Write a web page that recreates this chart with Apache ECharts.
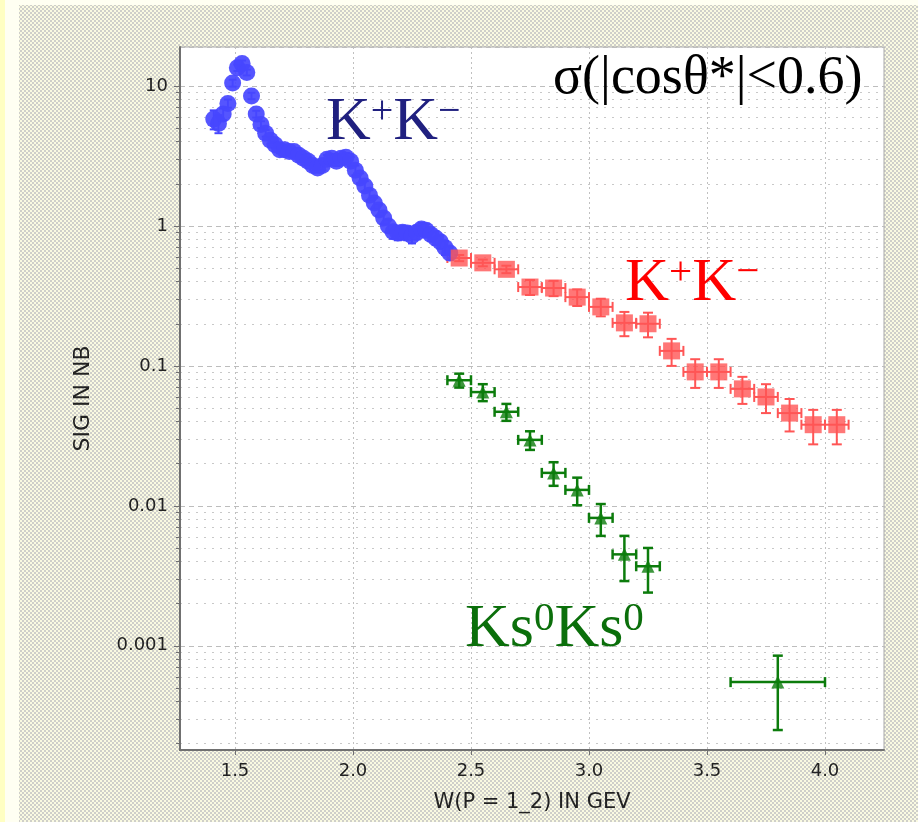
<!DOCTYPE html>
<html><head><meta charset="utf-8">
<script src="https://cdn.jsdelivr.net/npm/echarts@6/dist/echarts.min.js"></script>
<style>
html,body{margin:0;padding:0;}
#bg{position:absolute;left:0;top:0;width:918px;height:822px;background:#fffff2;}
#pat{position:absolute;left:19px;top:5px;width:899px;height:817px;background-color:#fafae2;
 background-image:radial-gradient(circle,#cfcfca 0.8px,transparent 1.3px),radial-gradient(circle,#cfcfca 0.8px,transparent 1.3px);
 background-size:4px 4px;background-position:0 0,2px 2px;}
#strip{position:absolute;left:0;top:0;width:5px;height:822px;background:#ffffc2;}
#chart{position:absolute;left:0;top:0;width:918px;height:822px;}
</style></head>
<body>
<div id="bg"></div><div id="pat"></div><div id="strip"></div>
<div id="chart"></div>
<script>
// ---- data ----
const blueW = [1.41,1.43,1.45,1.47,1.49,1.51,1.53,1.55,1.57,1.59,1.61,1.63,1.65,1.67,1.69,1.71,1.73,1.75,1.77,1.79,1.81,1.83,1.85,1.87,1.89,1.91,1.93,1.95,1.97,1.99,2.01,2.03,2.05,2.07,2.09,2.11,2.13,2.15,2.17,2.19,2.21,2.23,2.25,2.27,2.29,2.31,2.33,2.35,2.37,2.39,2.41];
const blueSig = [5.8,5.4,6.3,7.5,10.5,13.5,14.5,12.5,8.5,6.3,5.3,4.6,4.1,3.8,3.5,3.5,3.4,3.4,3.2,3.05,2.9,2.7,2.6,2.7,3.0,3.05,2.9,3.05,3.1,2.9,2.5,2.2,1.93,1.66,1.46,1.3,1.14,1.0,0.91,0.89,0.9,0.89,0.85,0.9,0.95,0.93,0.87,0.82,0.77,0.70,0.64];
const blueErr = [0.9,0.8,0.6,0.5,0.6,0.7,0.7,0.6,0.45,0.35,0.3,0.25,0.22,0.2,0.2,0.2,0.2,0.2,0.2,0.2,0.2,0.2,0.2,0.2,0.22,0.22,0.22,0.22,0.22,0.22,0.2,0.18,0.16,0.14,0.13,0.12,0.11,0.1,0.1,0.1,0.1,0.1,0.1,0.1,0.1,0.1,0.09,0.09,0.08,0.08,0.07];

const redW = [2.45,2.55,2.65,2.75,2.85,2.95,3.05,3.15,3.25,3.35,3.45,3.55,3.65,3.75,3.85,3.95,4.05];
const redSig = [0.59,0.545,0.49,0.366,0.36,0.31,0.264,0.203,0.20,0.128,0.0906,0.0906,0.0685,0.060,0.046,0.038,0.038];
const redErr = [0.03,0.03,0.03,0.045,0.045,0.042,0.038,0.04,0.04,0.028,0.021,0.021,0.015,0.014,0.012,0.0105,0.0105];
const redXErr = [0.05,0.05,0.05,0.05,0.05,0.05,0.05,0.05,0.05,0.05,0.05,0.05,0.05,0.05,0.05,0.05,0.05];

const greenW = [2.45,2.55,2.65,2.75,2.85,2.95,3.05,3.15,3.25,3.8];
const greenSig = [0.079,0.065,0.047,0.0296,0.0172,0.013,0.0082,0.0045,0.0037,0.00055];
const greenErr = [0.009,0.009,0.0065,0.0045,0.0033,0.0029,0.0021,0.0016,0.0013,0.0003];
const greenXErr = [0.05,0.05,0.05,0.05,0.05,0.05,0.05,0.05,0.05,0.2];

const xTickValues = [1.5,2.0,2.5,3.0,3.5,4.0];
const yTickValues = [0.001,0.01,0.1,1,10];
const X_MIN = 1.267, X_MAX = 4.25, Y_MIN = 1.8e-4, Y_MAX = 19;

// minor log tick positions (2..9 x decade), in log10 space for the helper axis
const yMinorLog = [];
for (let d = -4; d <= 1; d++) for (let k = 2; k <= 9; k++) {
  const v = k * Math.pow(10, d);
  if (v > Y_MIN && v < Y_MAX) yMinorLog.push(Math.log10(v));
}

function rows(xs, ys, ex, ey) { return xs.map((x, i) => [x, ys[i], ex ? ex[i] : 0, ey[i]]); }

function errBars(color, lw, cap) {
  return function (params, api) {
    const x = api.value(0), y = api.value(1), ex = api.value(2), ey = api.value(3);
    const c = api.coord([x, y]);
    const t = api.coord([x, y + ey]);
    const b = api.coord([x, Math.max(y - ey, 1e-6)]);
    const st = { stroke: color, lineWidth: lw };
    const ch = [
      { type: 'line', shape: { x1: c[0], y1: t[1], x2: c[0], y2: b[1] }, style: st },
      { type: 'line', shape: { x1: c[0] - cap, y1: t[1], x2: c[0] + cap, y2: t[1] }, style: st },
      { type: 'line', shape: { x1: c[0] - cap, y1: b[1], x2: c[0] + cap, y2: b[1] }, style: st }
    ];
    if (ex > 0) {
      const l = api.coord([x - ex, y]), r = api.coord([x + ex, y]);
      ch.push({ type: 'line', shape: { x1: l[0], y1: c[1], x2: r[0], y2: c[1] }, style: st });
      ch.push({ type: 'line', shape: { x1: l[0], y1: c[1] - cap, x2: l[0], y2: c[1] + cap }, style: st });
      ch.push({ type: 'line', shape: { x1: r[0], y1: c[1] - cap, x2: r[0], y2: c[1] + cap }, style: st });
    }
    return { type: 'group', children: ch };
  };
}

const BLUE = '#4646ff', RED = '#ff5555', GREEN = '#0c7c0c';
const tickFont = 'DejaVu Sans';

const chart = echarts.init(document.getElementById('chart'), null, { renderer: 'canvas' });
chart.setOption({
  backgroundColor: 'transparent',
  animation: false,
  grid: { left: 180, top: 47, right: 34, bottom: 72, show: true, backgroundColor: '#ffffff', borderColor: '#a8a8a8', borderWidth: 1 },
  xAxis: {
    type: 'value', min: X_MIN, max: X_MAX,
    name: 'W(P = 1_2) IN GEV', nameLocation: 'middle', nameGap: 42,
    nameTextStyle: { fontFamily: tickFont, fontSize: 21, color: '#222' },
    axisLine: { onZero: false, lineStyle: { color: '#707070', width: 2 } },
    axisTick: { customValues: xTickValues, length: 5, lineStyle: { color: '#707070' } },
    axisLabel: { customValues: xTickValues, margin: 12, fontFamily: tickFont, fontSize: 18, color: '#222', formatter: v => v.toFixed(1) },
    splitLine: { show: true, lineStyle: { color: '#c0c0c0', type: [2, 3], width: 1 } }
  },
  yAxis: [{
    type: 'log', logBase: 10, min: Y_MIN, max: Y_MAX, position: 'left',
    name: 'SIG IN NB', nameLocation: 'middle', nameGap: 86, nameRotate: 90,
    nameTextStyle: { fontFamily: tickFont, fontSize: 22, color: '#222' },
    axisLine: { show: true, onZero: false, lineStyle: { color: '#707070', width: 2 } },
    axisTick: { show: true, length: 6, lineStyle: { color: '#707070' } },
    axisLabel: { showMinLabel: false, showMaxLabel: false, margin: 12, fontFamily: tickFont, fontSize: 18, color: '#222',
      formatter: v => { const m = yTickValues.find(t => Math.abs(t - v) / t < 1e-6); return m === undefined ? '' : String(m); } },
    splitLine: { show: true, lineStyle: { color: '#bdbdbd', type: [5, 4], width: 1 } }
  }, {
    type: 'value', min: Math.log10(Y_MIN), max: Math.log10(Y_MAX), position: 'left',
    axisLine: { show: false, onZero: false },
    axisTick: { show: true, customValues: yMinorLog, length: 4, lineStyle: { color: '#707070' } },
    axisLabel: { show: false, customValues: yMinorLog },
    splitLine: { show: true, lineStyle: { color: '#c8c8c8', type: [2, 6], width: 1 } }
  }],
  graphic: [
    { type: 'text', left: 553, top: 52, silent: true, z: 100,
      style: { text: 'σ(|cosθ*|<0.6)', fontFamily: 'Liberation Serif', fontSize: 54, fill: '#000' } },
    { type: 'text', left: 326, top: 92, silent: true, z: 100,
      style: { text: '{k|K}{s|+}{k|K}{s|−}', rich: {
        k: { fontFamily: 'Liberation Serif', fontSize: 62, fill: '#20207f' },
        s: { fontFamily: 'Liberation Serif', fontSize: 40, fill: '#20207f', verticalAlign: 'top' } } } },
    { type: 'text', left: 625, top: 253, silent: true, z: 100,
      style: { text: '{k|K}{s|+}{k|K}{s|−}', rich: {
        k: { fontFamily: 'Liberation Serif', fontSize: 61, fill: '#ff0000' },
        s: { fontFamily: 'Liberation Serif', fontSize: 41, fill: '#ff0000', verticalAlign: 'top' } } } },
    { type: 'text', left: 465, top: 599, silent: true, z: 100,
      style: { text: '{k|Ks}{s|0}{k|Ks}{s|0}', rich: {
        k: { fontFamily: 'Liberation Serif', fontSize: 62, fill: '#0b6f0b' },
        s: { fontFamily: 'Liberation Serif', fontSize: 41, fill: '#0b6f0b', verticalAlign: 'top' } } } }
  ],
  series: [
    { type: 'custom', name: 'blueErr', xAxisIndex: 0, yAxisIndex: 0, encode: { x: 0, y: 1 }, z: 2,
      renderItem: errBars(BLUE, 2, 4), data: rows(blueW, blueSig, null, blueErr) },
    { type: 'scatter', name: 'K+K- (blue)', xAxisIndex: 0, yAxisIndex: 0, symbol: 'circle', symbolSize: 17, z: 3,
      itemStyle: { color: BLUE, opacity: 0.92 }, data: blueW.map((x, i) => [x, blueSig[i]]) },
    { type: 'custom', name: 'redErr', xAxisIndex: 0, yAxisIndex: 0, encode: { x: 0, y: 1 }, z: 2,
      renderItem: errBars(RED, 2, 5), data: rows(redW, redSig, redXErr, redErr) },
    { type: 'scatter', name: 'K+K- (red)', xAxisIndex: 0, yAxisIndex: 0, symbol: 'rect', symbolSize: 17, z: 3,
      itemStyle: { color: RED }, data: redW.map((x, i) => [x, redSig[i]]) },
    { type: 'custom', name: 'greenErr', xAxisIndex: 0, yAxisIndex: 0, encode: { x: 0, y: 1 }, z: 2,
      renderItem: errBars(GREEN, 2.5, 5), data: rows(greenW, greenSig, greenXErr, greenErr) },
    { type: 'scatter', name: 'Ks0Ks0', xAxisIndex: 0, yAxisIndex: 0, symbol: 'triangle', symbolSize: 13, z: 3,
      itemStyle: { color: GREEN }, data: greenW.map((x, i) => [x, greenSig[i]]) }
  ]
});
</script>
</body></html>
